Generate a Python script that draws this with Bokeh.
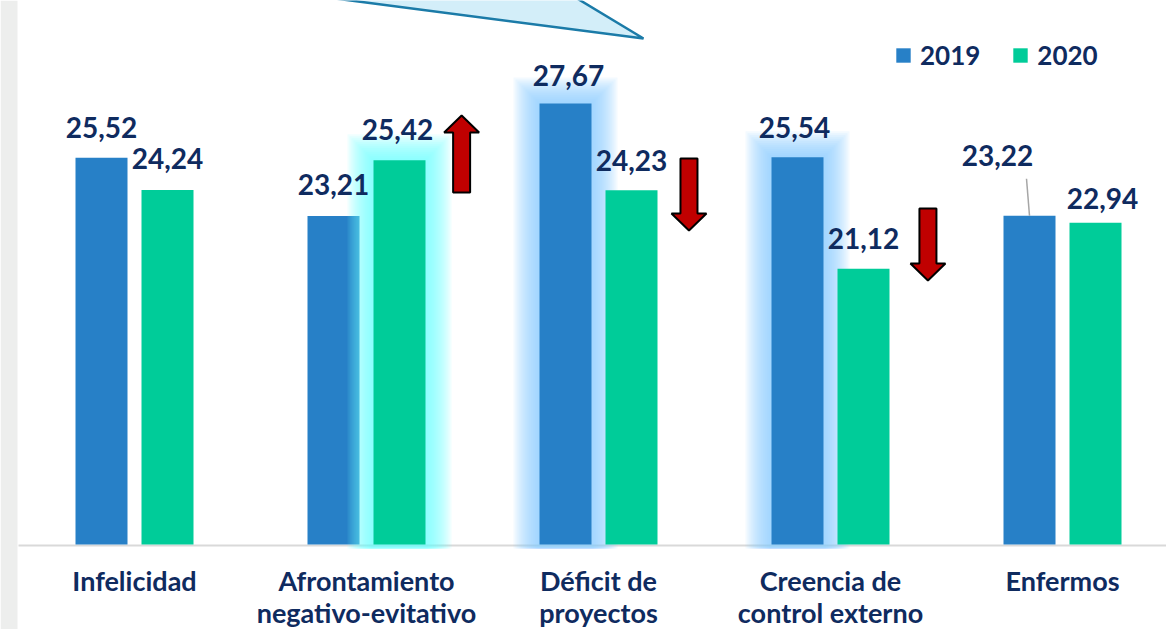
import numpy as np
from bokeh.plotting import figure
from bokeh.models import Range1d, Legend, LegendItem, ColumnDataSource
from bokeh.core.properties import value
from bokeh.embed import file_html
from bokeh.resources import INLINE

# ---------------- data ----------------
categories = ["Infelicidad", "Afrontamiento\nnegativo-evitativo", "Déficit de\nproyectos",
              "Creencia de\ncontrol externo", "Enfermos"]
series = ["2019", "2020"]
values_2019 = [25.52, 23.21, 27.67, 25.54, 23.22]
values_2020 = [24.24, 25.42, 24.23, 21.12, 22.94]

# ---------------- styles ----------------
BLUE = "#2780C7"
GREEN = "#00CC99"
NAVY = "#0F2B5F"
FONT = "Lato"

FIG_W, FIG_H = 1166, 629   # figure occupies page x 0..1166, y 0..629
PX_X = 232.0               # pixels per category
PX_Y = 25.25               # pixels per value unit
Y0 = 10.2                  # value at the baseline (page y 544)
TXT_FIX = 10               # px correction for text baseline placement
OFF = 33 / PX_X            # dodge of each series
BAR_W = 52 / PX_X

def hx(px):
    return px / PX_X

def hy(px):
    return px / PX_Y

def X(sx):  # page x -> data x (category 0 centred at page x 134)
    return (sx - 134) / PX_X

def Y(sy):  # page y -> data y (baseline at page y 544)
    return Y0 + (544 - sy) / PX_Y

idx = np.arange(len(categories))
fmt = lambda v: f"{v:.2f}".replace(".", ",")

p = figure(width=FIG_W, height=FIG_H,
           x_range=Range1d(X(0), X(FIG_W)),
           y_range=Range1d(Y(FIG_H), Y(0)),
           output_backend="svg", toolbar_location=None,
           min_border_left=0, min_border_right=0, min_border_top=0, min_border_bottom=0,
           x_axis_location=None, y_axis_location=None, outline_line_color=None,
           background_fill_color="white", border_fill_color="white")
p.xgrid.visible = False
p.ygrid.visible = False

# grey strip on the left (decoration)
p.quad(left=X(0), right=X(17), top=Y(0), bottom=Y(FIG_H),
       fill_color="#EDEEED", line_color=None)

# baseline
p.segment(x0=X(18), y0=Y0 - hy(1), x1=X(FIG_W), y1=Y0 - hy(1),
          line_color="#D9D9D9", line_width=2)

# ---------------- callout triangle (decoration) ----------------
p.patch(x=[X(195.8), X(643), X(546.8)], y=[Y(-20), Y(38), Y(-20)],
        fill_color="#D3EEF9", line_color="#1B7BA8", line_width=2.5)

# ---------------- glow helper ----------------
def glow(xc, top, color):
    for e in range(26, 0, -2):
        p.quad(left=xc - BAR_W / 2 - hx(e), right=xc + BAR_W / 2 + hx(e),
               top=top + hy(e), bottom=Y0 - hy(4), fill_color=color, fill_alpha=0.1,
               line_color=None)

x19 = idx - OFF
x20 = idx + OFF

# blue glows (Déficit, Creencia)
for i in [2, 3]:
    glow(x19[i], values_2019[i], "#8ECBFF")

src19 = ColumnDataSource(dict(x=x19, top=values_2019))
src20 = ColumnDataSource(dict(x=x20, top=values_2020))

r19 = p.vbar(x="x", top="top", bottom=Y0, width=BAR_W, source=src19,
             fill_color=BLUE, line_color=None)

# cyan glow (Afrontamiento 2020)
glow(x20[1], values_2020[1], "#6FFFFF")

r20 = p.vbar(x="x", top="top", bottom=Y0, width=BAR_W, source=src20,
             fill_color=GREEN, line_color=None)

# ---------------- value labels ----------------
lab19_dx = [0, 0, 3, -3, -32]
lab19_dy = [20, 21, 18, 20, 50]
lab20_dx = [0, -2, 0, 0, 7]
lab20_dy = [21, 21, 20, 20, 14]

lsrc = ColumnDataSource(dict(
    x=list(x19 + np.array(lab19_dx) / PX_X) + list(x20 + np.array(lab20_dx) / PX_X),
    y=[v + hy(d + TXT_FIX) for v, d in zip(values_2019, lab19_dy)] +
      [v + hy(d + TXT_FIX) for v, d in zip(values_2020, lab20_dy)],
    text=[fmt(v) for v in values_2019] + [fmt(v) for v in values_2020]))
p.text(x="x", y="y", text="text", source=lsrc, text_font=value(FONT),
       text_font_style="bold", text_font_size="28px", text_color=NAVY,
       text_align="center", text_baseline="alphabetic")

# leader line for Enfermos 2019
p.segment(x0=x19[4], y0=values_2019[4], x1=x19[4] - hx(3), y1=values_2019[4] + hy(37),
          line_color="#A6A6A6", line_width=1.5)

# ---------------- arrows ----------------
arrow_cat = [1, 2, 3]
arrow_off = [0.41, 0.39, 0.42]
arrow_tail = [Y(192), Y(158), Y(208)]
arrow_tip = [Y(115), Y(230), Y(280)]
hs, hh, hl = hx(8.5), hx(17.5), hy(17)
for c, o, yt, yp in zip(arrow_cat, arrow_off, arrow_tail, arrow_tip):
    xc = c + o
    s = 1 if yp > yt else -1
    hb = yp - s * hl
    xs = [xc - hs, xc + hs, xc + hs, xc + hh, xc, xc - hh, xc - hs]
    ys = [yt, yt, hb, hb, yp, hb, hb]
    p.patch(x=xs, y=ys, fill_color="#C00000", line_color="black", line_width=2)

# ---------------- category labels ----------------
line1 = [c.split("\n")[0] for c in categories]
line2 = [c.split("\n")[1] if "\n" in c else "" for c in categories]
csrc = ColumnDataSource(dict(
    x=list(idx) + list(idx),
    y=[Y(590 - TXT_FIX)] * len(idx) + [Y(622 - TXT_FIX)] * len(idx),
    text=line1 + line2))
p.text(x="x", y="y", text="text", source=csrc, text_font=value(FONT),
       text_font_style="bold", text_font_size="27px", text_color=NAVY,
       text_align="center", text_baseline="alphabetic")

# ---------------- legend ----------------
legend = Legend(items=[LegendItem(label=series[0], renderers=[r19]),
                       LegendItem(label=series[1], renderers=[r20])],
                orientation="horizontal", location=(894, 629 - 71),
                glyph_width=18, glyph_height=18, label_standoff=8, spacing=31,
                padding=0, margin=0, border_line_color=None,
                background_fill_alpha=0,
                label_text_font=FONT, label_text_font_style="bold",
                label_text_font_size="26px", label_text_color=NAVY)
p.add_layout(legend)

open("out.html", "w").write(file_html(p, INLINE))
